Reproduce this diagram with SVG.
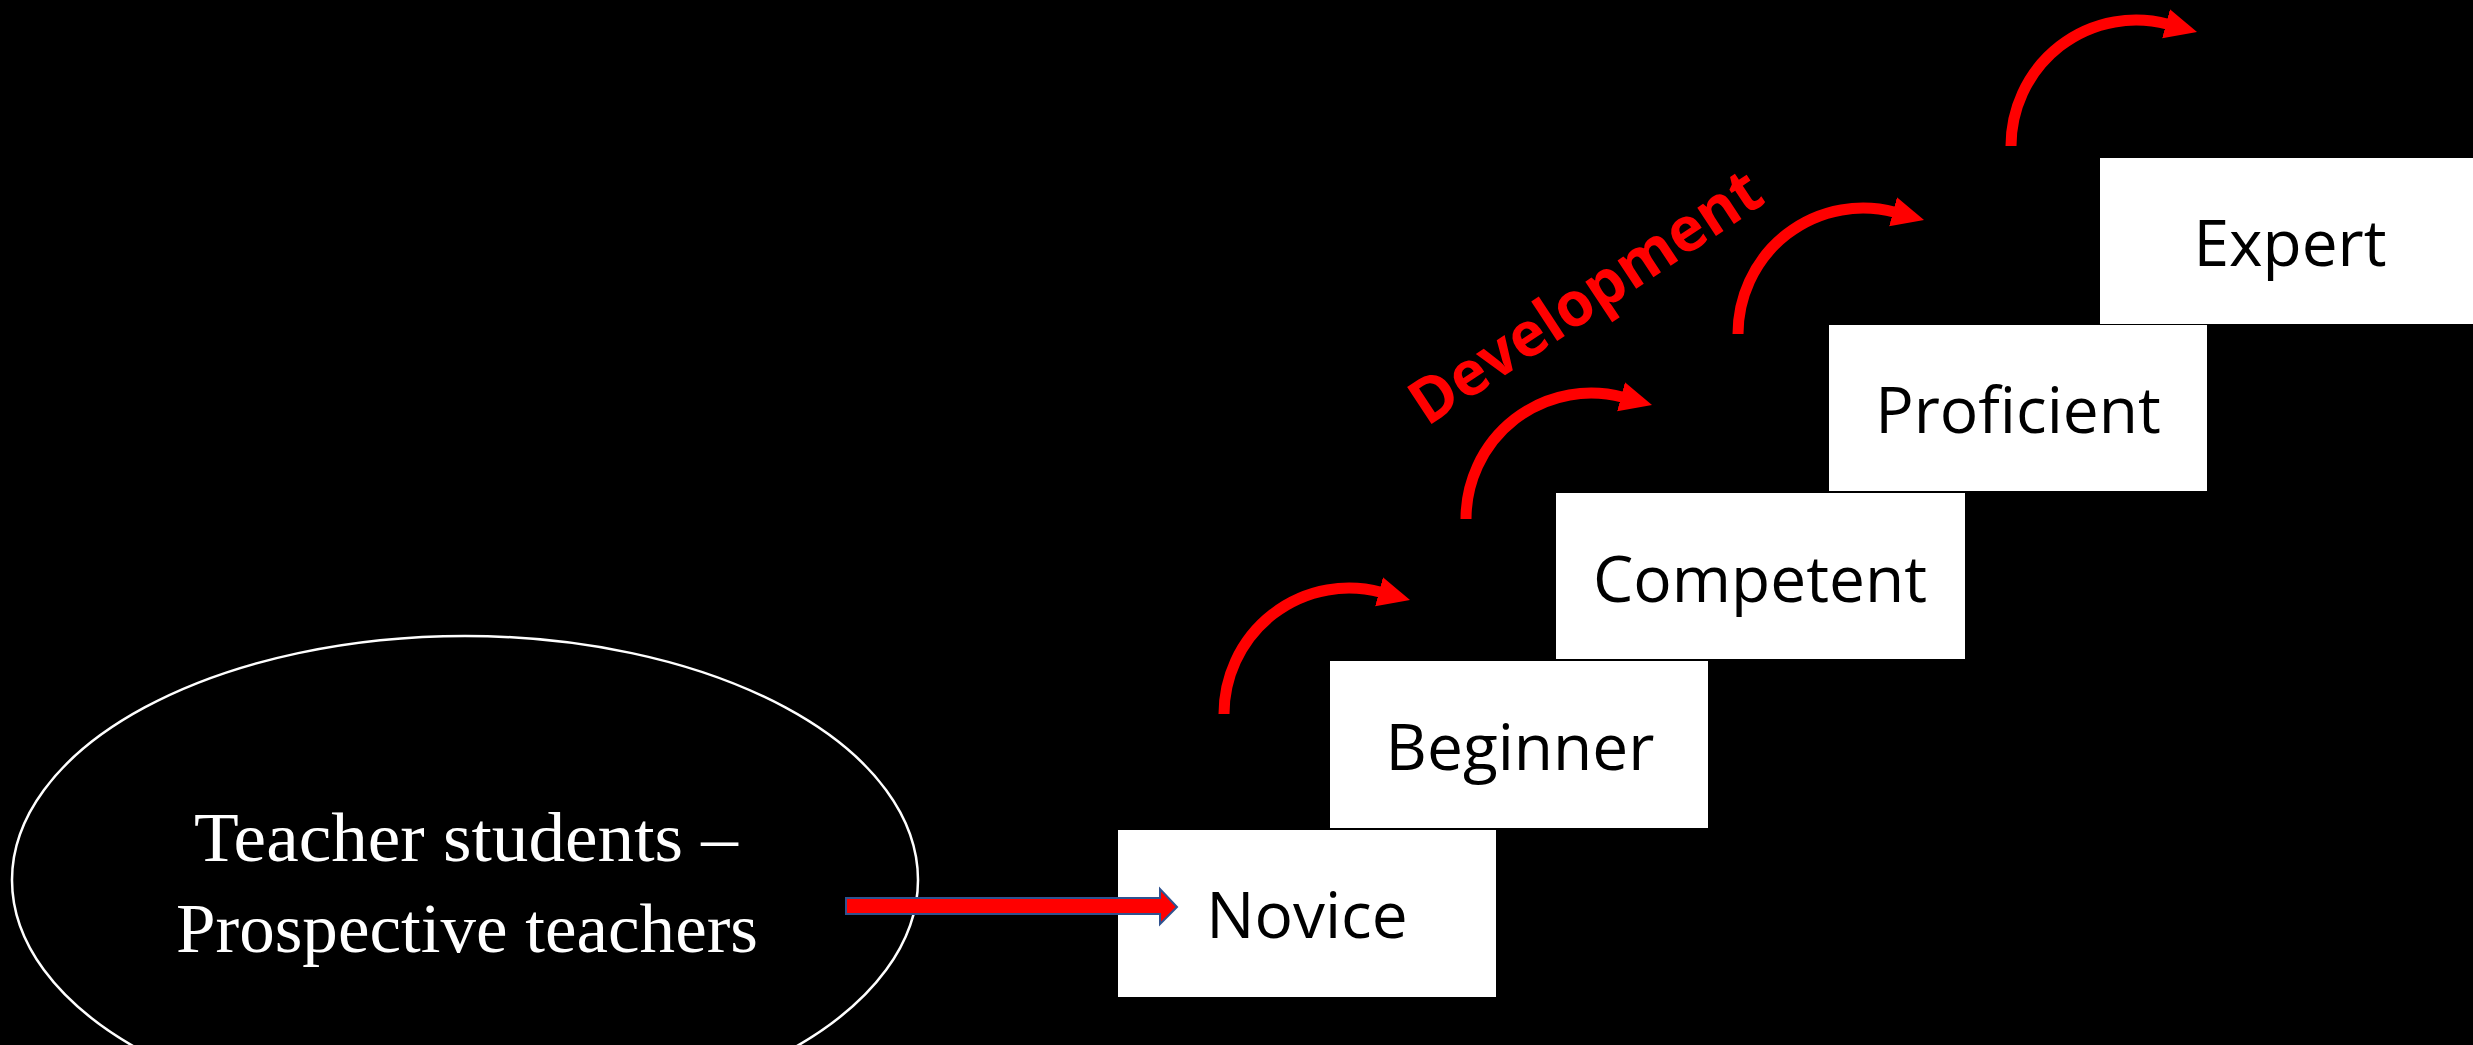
<svg xmlns="http://www.w3.org/2000/svg" width="2473" height="1045" viewBox="0 0 2473 1045">
  <defs>
    <style>
      .box { fill: #ffffff; }
      .lbl { font-family: "Open Sans", "Noto Sans", sans-serif; font-size: 64px; fill: #000000; text-anchor: middle; }
      .curve { fill: none; stroke: #ff0000; stroke-width: 11; }
      .ell-text { font-family: "Liberation Serif", "DejaVu Serif", serif; font-size: 70px; fill: #ffffff; text-anchor: middle; }
      .dev { font-family: "Open Sans", "Noto Sans", sans-serif; font-weight: bold; font-size: 62px; fill: #ff0000; }
    </style>
    <marker id="head" markerUnits="userSpaceOnUse" viewBox="-2 -16 34 32" refX="0" refY="0" markerWidth="34" markerHeight="32" orient="auto">
      <path d="M -2 -15 L 30 0 L -2 15 Z" fill="#ff0000"/>
    </marker>
  </defs>
  <rect x="0" y="0" width="2473" height="1045" fill="#000000"/>

  <g id="source">
    <ellipse cx="465" cy="880" rx="453" ry="244" fill="none" stroke="#ffffff" stroke-width="2.5"/>
    <text class="ell-text" x="466" y="861" textLength="544" lengthAdjust="spacingAndGlyphs">Teacher students –</text>
    <text class="ell-text" x="467" y="952" textLength="582" lengthAdjust="spacingAndGlyphs">Prospective teachers</text>
  </g>

  <g id="novice">
    <rect class="box" x="1118" y="830" width="378" height="167"/>
    <text class="lbl" x="1307" y="938">Novice</text>
  </g>
  <g id="beginner">
    <rect class="box" x="1330" y="661" width="378" height="167"/>
    <text class="lbl" x="1520" y="770">Beginner</text>
  </g>
  <g id="competent">
    <rect class="box" x="1556" y="493" width="409" height="166"/>
    <text class="lbl" x="1760" y="602">Competent</text>
  </g>
  <g id="proficient">
    <rect class="box" x="1829" y="325" width="378" height="166"/>
    <text class="lbl" x="2018" y="433">Proficient</text>
  </g>
  <g id="expert">
    <rect class="box" x="2100" y="158" width="382" height="166"/>
    <text class="lbl" x="2290" y="266">Expert</text>
  </g>

  <g id="development-label">
    <text class="dev" x="0" y="0" textLength="408" lengthAdjust="spacingAndGlyphs" transform="translate(1427 427) rotate(-33.5)">Development</text>
  </g>

  <g id="connectors">
    <polygon points="846,898 1160,898 1160,889 1177,907 1160,924 1160,914 846,914" fill="#ff0000" stroke="#2f528f" stroke-width="2"/>
    <path class="curve" d="M 1224 714 A 125 126 0 0 1 1381 592.3" marker-end="url(#head)"/>
    <path class="curve" d="M 1466 519 A 125 126 0 0 1 1623 397.3" marker-end="url(#head)"/>
    <path class="curve" d="M 1738 334 A 125 126 0 0 1 1895 212.3" marker-end="url(#head)"/>
    <path class="curve" d="M 2011 146 A 125 126 0 0 1 2168 24.3" marker-end="url(#head)"/>
  </g>
</svg>
